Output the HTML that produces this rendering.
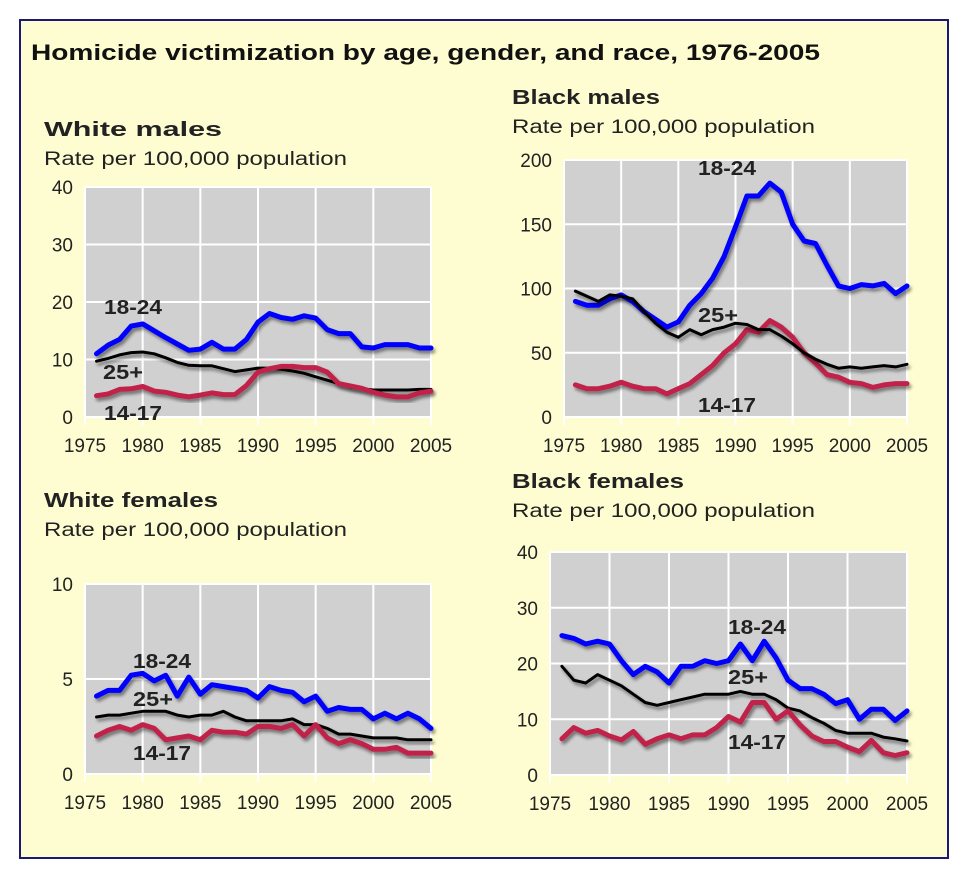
<!DOCTYPE html>
<html><head><meta charset="utf-8"><style>
body{margin:0;background:#fff;}
svg{display:block;font-family:"Liberation Sans",Arial,sans-serif;}
</style></head><body>
<svg id="chart" width="964" height="872" viewBox="0 0 964 872">
<defs><filter id="sh" x="-10%" y="-10%" width="120%" height="130%"><feDropShadow dx="2" dy="3" stdDeviation="1.5" flood-color="#000" flood-opacity="0.45"/></filter></defs>
<rect x="20" y="20" width="928" height="838" fill="#fefdd2" stroke="#1a1a6e" stroke-width="2"/>
<text x="31" y="60" font-size="22" font-weight="bold" fill="#111" textLength="789" lengthAdjust="spacingAndGlyphs">Homicide victimization by age, gender, and race, 1976-2005</text>
<g id="panels"></g>
</svg>
<script>
const years=[1976,1977,1978,1979,1980,1981,1982,1983,1984,1985,1986,1987,1988,1989,1990,1991,1992,1993,1994,1995,1996,1997,1998,1999,2000,2001,2002,2003,2004,2005];
const xTicks=[1975,1980,1985,1990,1995,2000,2005];
const wmYTicks=[0,10,20,30,40];
const bmYTicks=[0,50,100,150,200];
const wfYTicks=[0,5,10];
const bfYTicks=[0,10,20,30,40];
const wm1824=[11,12.5,13.5,15.8,16.2,15,13.8,12.7,11.6,11.8,13,11.8,11.8,13.5,16.5,18,17.3,17,17.6,17.2,15.2,14.5,14.5,12.2,12,12.6,12.6,12.6,12,12];
const wm25=[9.7,10.2,10.8,11.2,11.3,11,10.3,9.5,9,8.9,8.9,8.4,7.9,8.2,8.5,8.5,8.3,8,7.6,7,6.4,5.8,5.2,4.9,4.7,4.7,4.7,4.7,4.8,4.8];
const wm1417=[3.7,4,4.8,4.9,5.3,4.5,4.3,3.8,3.5,3.8,4.2,3.9,3.9,5.5,7.8,8.4,8.8,8.8,8.6,8.6,7.8,5.8,5.4,5,4.3,3.8,3.5,3.5,4.2,4.5];
const bm1824=[90,87,87,92,95,90,82,76,70,74,87,96,108,125,148,172,172,182,175,150,137,135,118,102,100,103,102,104,96,102];
const bm25=[98,94,90,95,94,92,82,73,66,62,68,64,68,70,73,72,68,68,63,57,50,45,41,38,39,38,39,40,39,41];
const bm1417=[25,22,22,24,27,24,22,22,18,22,26,33,40,50,57,68,66,75,70,62,50,42,33,31,27,26,23,25,26,26];
const wf1824=[4.1,4.4,4.4,5.2,5.3,4.9,5.2,4.1,5.1,4.2,4.7,4.6,4.5,4.4,4,4.6,4.4,4.3,3.8,4.1,3.3,3.5,3.4,3.4,2.9,3.2,2.9,3.2,2.9,2.4];
const wf25=[3,3.1,3.1,3.2,3.3,3.3,3.3,3.1,3,3.1,3.1,3.3,3,2.8,2.8,2.8,2.8,2.9,2.6,2.6,2.4,2.1,2.1,2,1.9,1.9,1.9,1.8,1.8,1.8];
const wf1417=[2,2.3,2.5,2.3,2.6,2.4,1.8,1.9,2,1.8,2.3,2.2,2.2,2.1,2.5,2.5,2.4,2.6,2,2.6,1.9,1.6,1.8,1.6,1.3,1.3,1.4,1.1,1.1,1.1];
const bf1824=[25,24.5,23.5,24,23.5,20.5,18,19.5,18.5,16.5,19.5,19.5,20.5,20,20.5,23.5,20.5,24,21,17,15.5,15.5,14.5,12.8,13.5,10,11.8,11.8,9.8,11.5];
const bf25=[19.5,17,16.5,18,17,16,14.5,13,12.5,13,13.5,14,14.5,14.5,14.5,15,14.5,14.5,13.5,12,11.5,10.3,9.3,8,7.5,7.5,7.5,6.8,6.5,6.1];
const bf1417=[6.5,8.5,7.5,8,7,6.3,7.8,5.5,6.5,7.2,6.5,7.2,7.2,8.5,10.5,9.5,13,13,10,11.5,9,7,6,6,5,4.2,6.2,4,3.5,4];

const NS="http://www.w3.org/2000/svg";
const root=document.getElementById('panels');
function mk(tag,attrs,parent){const e=document.createElementNS(NS,tag);for(const k in attrs)e.setAttribute(k,attrs[k]);parent.appendChild(e);return e;}
function txt(parent,x,y,s,size,weight,anchor,name,len){const t=mk('text',{x:x,y:y,'font-size':size,'font-weight':weight,'text-anchor':anchor,fill:'#222'},parent);t.textContent=s;
if(len){t.setAttribute('textLength',len);t.setAttribute('lengthAdjust','spacingAndGlyphs');}


return t;}

function panel(p){
  const g=mk('g',{},root);
  
  
  txt(g,p.tx,p.ty,p.title,20,'bold','start',p.id+'-title',p.tl);
  txt(g,p.tx,p.ty+29,'Rate per 100,000 population',19,'normal','start',p.id+'-subtitle',303);
  const xs=v=>p.L+(v-1975)/30*(p.R-p.L);
  const ys=v=>p.B-v/p.max*(p.B-p.T);
  const bg=mk('rect',{x:p.L,y:p.T,width:p.R-p.L,height:p.B-p.T,fill:'#d0d0d0'},g);
  
  
  p.yt.forEach(v=>{
    const l=mk('line',{x1:p.L,x2:p.R,y1:ys(v),y2:ys(v),stroke:'#fff','stroke-width':2},g);
    
    
    txt(g,p.L-12,ys(v)+7,String(v),19,'normal','end',p.id+'-y-tick-label');
  });
  xTicks.forEach(v=>{
    const l=mk('line',{x1:xs(v),x2:xs(v),y1:p.T,y2:p.B+8,stroke:'#fff','stroke-width':2},g);
    
    
    txt(g,xs(v),p.B+35,String(v),19,'normal','middle',p.id+'-x-tick-label');
  });
  p.series.forEach(s=>{
    const d=s.v.map((v,i)=>(i?'L':'M')+xs(years[i]).toFixed(1)+','+ys(v).toFixed(1)).join(' ');
    const path=mk('path',{d:d,fill:'none',stroke:s.c,'stroke-width':s.w,'stroke-linejoin':'round','stroke-linecap':'round',filter:'url(#sh)'},g);
    
    
  });
  p.labels.forEach(l=>txt(g,l[1],l[2],l[0],20,'bold','start',p.id+'-label-'+l[0],l[0]==='25+'?40:58));
}
panel({id:'white-males',title:'White males',tl:178,tx:44,ty:136,L:85,R:431,T:187,B:417,max:40,yt:wmYTicks,
 series:[{n:'25plus',v:wm25,c:'#000',w:3},{n:'14-17',v:wm1417,c:'#c0234a',w:5},{n:'18-24',v:wm1824,c:'#0000ff',w:5}],
 labels:[['18-24',104,314],['25+',103,379],['14-17',104,420]]});
panel({id:'black-males',title:'Black males',tl:148,tx:512,ty:104,L:564,R:907,T:160,B:417,max:200,yt:bmYTicks,
 series:[{n:'14-17',v:bm1417,c:'#c0234a',w:5},{n:'18-24',v:bm1824,c:'#0000ff',w:5},{n:'25plus',v:bm25,c:'#000',w:3}],
 labels:[['18-24',698,175],['25+',698,322],['14-17',698,412]]});
panel({id:'white-females',title:'White females',tl:174,tx:44,ty:507,L:85,R:431,T:584,B:774,max:10,yt:wfYTicks,
 series:[{n:'25plus',v:wf25,c:'#000',w:3},{n:'14-17',v:wf1417,c:'#c0234a',w:5},{n:'18-24',v:wf1824,c:'#0000ff',w:5}],
 labels:[['18-24',133,668],['25+',133,706],['14-17',133,760]]});
panel({id:'black-females',title:'Black females',tl:172,tx:512,ty:488,L:550,R:907,T:552,B:775,max:40,yt:bfYTicks,
 series:[{n:'25plus',v:bf25,c:'#000',w:3},{n:'14-17',v:bf1417,c:'#c0234a',w:5},{n:'18-24',v:bf1824,c:'#0000ff',w:5}],
 labels:[['18-24',728,634],['25+',728,684],['14-17',728,749]]});
</script>
</body></html>
